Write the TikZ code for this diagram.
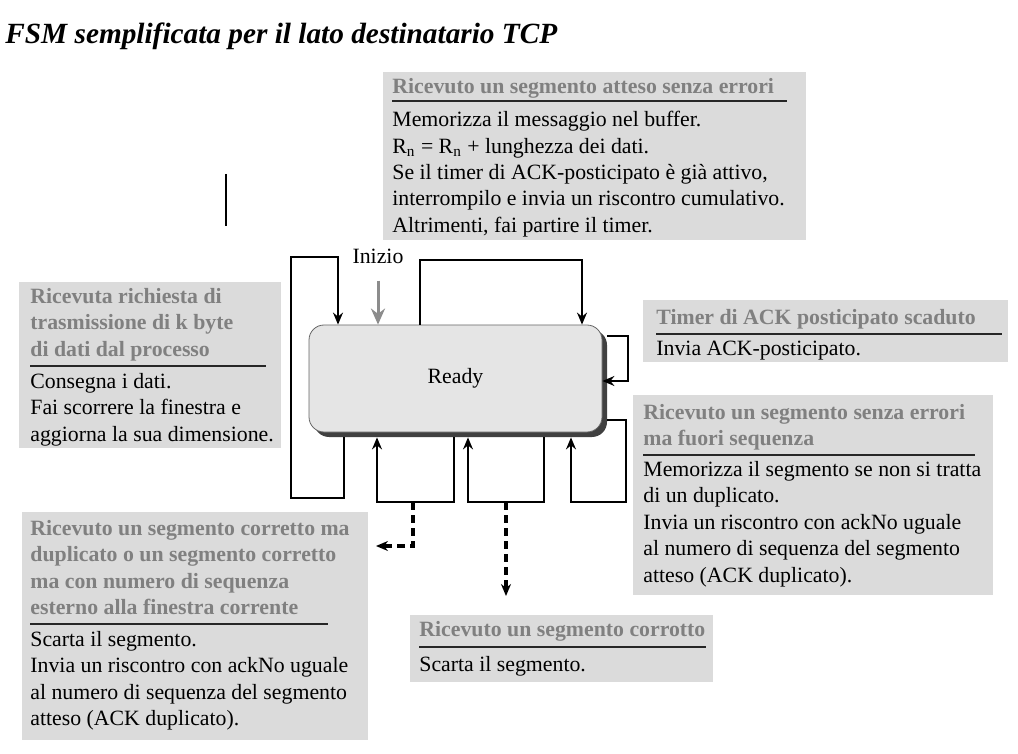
\documentclass[tikz,border=0pt]{standalone}
\usepackage{fontspec}
\setmainfont{Liberation Serif}
\usepackage{xcolor}
\usepackage{tikz}
\usetikzlibrary{arrows.meta,shadows,positioning}
\def\txtsize{\fontsize{10.9pt}{13.2pt}\selectfont}

\begin{document}
\begin{tikzpicture}[x=0.5pt,y=-0.5pt,>={Stealth[length=6pt,width=5pt]}]
    \tikzstyle{panel}=[rectangle,fill=black!14,inner sep=0pt,anchor=north west]
    \tikzstyle{cond}=[anchor=north west,inner sep=0pt,align=left,font=\txtsize\bfseries,text=black!50]
    \tikzstyle{act}=[anchor=north west,inner sep=0pt,align=left,font=\txtsize]
    \tikzstyle{bar}=[line width=0.9pt,black!85]
    \tikzstyle{loop}=[line width=0.75pt]
    \tikzstyle{dashline}=[line width=2pt,dash pattern=on 4pt off 2.5pt]
    \tikzstyle{state}=[rectangle,rounded corners=7.5pt,draw=black!60,fill=black!10,
        minimum width=146.5pt,minimum height=53.5pt,font=\txtsize,
        drop shadow={shadow xshift=2.5pt,shadow yshift=-2.5pt,opacity=1,fill=black!75}]

    \useasboundingbox (0,0) rectangle (1018,754);

    % Title
    \node[font=\fontsize{14.65pt}{17pt}\selectfont\bfseries\itshape,anchor=base west,inner sep=0pt]
        (title) at (5,44) {FSM semplificata per il lato destinatario TCP};

    % Panels with event and actions
    \node[panel,minimum width=211.5pt,minimum height=84pt] (exp) at (383,72) {};
    \node[cond] (exp-c) at (392,78) {Ricevuto un segmento atteso senza errori};
    \draw[bar] (392,101) -- (787,101);
    \node[act] (exp-a) at (392,111) {Memorizza il messaggio nel buffer.\\
        R\textsubscript{n} = R\textsubscript{n} + lunghezza dei dati.\\
        Se il timer di ACK-posticipato è già attivo,\\
        interrompilo e invia un riscontro cumulativo.\\
        Altrimenti, fai partire il timer.};

    \node[panel,minimum width=131pt,minimum height=83pt] (req) at (19,282) {};
    \node[cond] (req-c) at (30,288) {Ricevuta richiesta di\\trasmissione di k byte\\di dati dal processo};
    \draw[bar] (30,366) -- (266,366);
    \node[act] (req-a) at (30,373) {Consegna i dati.\\Fai scorrere la finestra e\\aggiorna la sua dimensione.};

    \node[panel,minimum width=182.5pt,minimum height=31pt] (tmo) at (643,300) {};
    \node[cond] (tmo-c) at (656,309) {Timer di ACK posticipato scaduto};
    \draw[bar] (656,334) -- (1002,334);
    \node[act] (tmo-a) at (656,341) {Invia ACK-posticipato.};

    \node[panel,minimum width=180pt,minimum height=100pt] (ooo) at (633,395) {};
    \node[cond] (ooo-c) at (643,404) {Ricevuto un segmento senza errori\\ma fuori sequenza};
    \draw[bar] (643,455) -- (975,455);
    \node[act] (ooo-a) at (643,461) {Memorizza il segmento se non si tratta\\di un duplicato.\\
        Invia un riscontro con ackNo uguale\\al numero di sequenza del segmento\\atteso (ACK duplicato).};

    \node[panel,minimum width=173pt,minimum height=114pt] (dup) at (22,512) {};
    \node[cond] (dup-c) at (30,520) {Ricevuto un segmento corretto ma\\duplicato o un segmento corretto\\
        ma con numero di sequenza\\esterno alla finestra corrente};
    \draw[bar] (30,624) -- (328,624);
    \node[act] (dup-a) at (30,631) {Scarta il segmento.\\Invia un riscontro con ackNo uguale\\
        al numero di sequenza del segmento\\atteso (ACK duplicato).};

    \node[panel,minimum width=151.5pt,minimum height=33.5pt] (bad) at (410,615) {};
    \node[cond] (bad-c) at (419,621) {Ricevuto un segmento corrotto};
    \draw[bar] (419,647) -- (706,647);
    \node[act] (bad-a) at (419,656) {Scarta il segmento.};

    % The single state
    \node[state] (ready) at (455.5,378.5) {Ready};
    \coordinate (rb) at ([yshift=-2.5pt]ready.south);
    \coordinate (rr) at ([xshift=2.5pt]ready.east);

    % Start arrow
    \node[font=\txtsize,inner sep=0pt] (start) at (378,256) {Inizio};
    \draw[->,line width=1.5pt,black!45,shorten <=8.5pt,>={Stealth[length=8pt,width=7pt]}]
        (start.south) -- (ready.north -| start.south);

    % Self loops
    \coordinate (rq1) at (344,498);
    \coordinate (rq2) at (291,498);
    \coordinate (rq3) at (291,257);
    \coordinate (rq4) at (338,257);
    \draw[loop,->] (rb -| rq1) -- (rq1) -- (rq2) -- (rq3) -- (rq4) -- (ready.north -| rq4);

    \coordinate (ex1) at (420,260);
    \coordinate (ex2) at (582,260);
    \draw[loop,->] (ready.north -| ex1) -- (ex1) -- (ex2) -- (ready.north -| ex2);

    \coordinate (tm1) at (628,336);
    \coordinate (tm2) at (628,381);
    \draw[loop,->] (rr |- tm1) -- (tm1) -- (tm2) -- (ready.east |- tm2);

    \coordinate (oo1) at (626,420);
    \coordinate (oo2) at (626,502);
    \coordinate (oo3) at (571,502);
    \draw[loop,->] (rr |- oo1) -- (oo1) -- (oo2) -- (oo3) -- (rb -| oo3);

    \coordinate (du1) at (454,502);
    \coordinate (du2) at (377,502);
    \draw[loop,->] (rb -| du1) -- (du1) -- (du2) -- (rb -| du2);

    \coordinate (ba1) at (544,502);
    \coordinate (ba2) at (468,502);
    \draw[loop,->] (rb -| ba1) -- (ba1) -- (ba2) -- (rb -| ba2);

    % Dashed links to the panels below
    \coordinate (dd1) at (413,502);
    \coordinate (dd2) at (413,546);
    \coordinate (dd3) at (376,546);
    \draw[dashline,->] (dd1) -- (dd2) -- (dd3);
    \coordinate (db1) at (506,502);
    \coordinate (db2) at (506,596);
    \draw[dashline,->] (db1) -- (db2);

    % stray mark
    \draw[line width=0.8pt] (226,174) -- (226,226);
\end{tikzpicture}
\end{document}
